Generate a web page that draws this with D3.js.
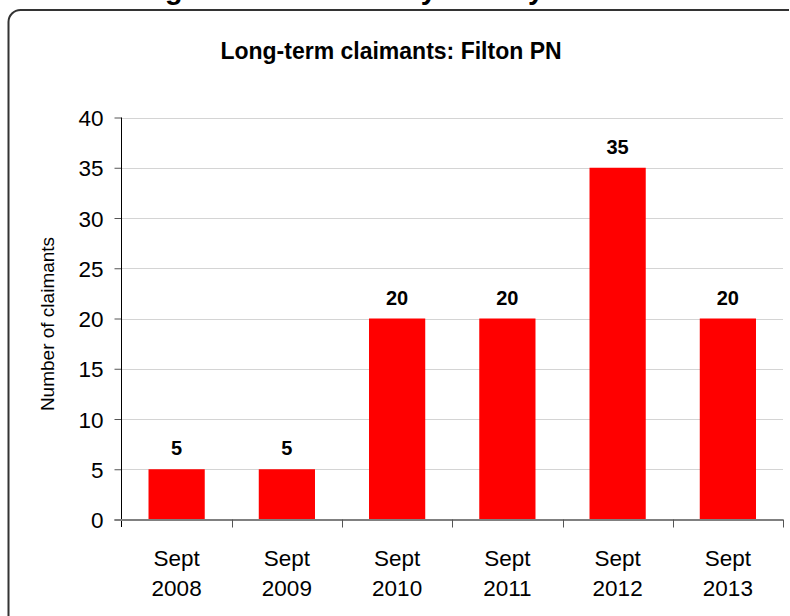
<!DOCTYPE html>
<html lang="en">
<head>
<meta charset="UTF-8">
<script src="https://d3js.org/d3.v7.min.js"></script>
<style>
body{
	margin: 0;
	background-color: white;
	font-family: "Liberation Sans", Arial, sans-serif;
}
.grid line{
	stroke: #d4d4d4;
	shape-rendering: crispEdges;
}
</style>
</head>
<body>
<svg width="790" height="616"></svg>

<script>
// chart data
const months = ["Sept", "Sept", "Sept", "Sept", "Sept", "Sept"]
const years = ["2008", "2009", "2010", "2011", "2012", "2013"]
const claimants = [5, 5, 20, 20, 35, 20]
const yTicks = [0, 5, 10, 15, 20, 25, 30, 35, 40]

const pageTitle = "Long-term claimants by locality"
const chartTitle = "Long-term claimants: Filton PN"
const yTitle = "Number of claimants"

const svg = d3.select("svg")

// slide heading, cut off by the top of the picture
let heading = svg.append("text")
	.attr("x", 0)
	.attr("y", -1.5)
	.style("font-size", "29px")
	.style("font-weight", "bold")
	.text(pageTitle)

// line the "g" and the "y" of "by" up with the reference
let hNode = heading.node()
let gX = hNode.getStartPositionOfChar(pageTitle.indexOf("g")).x
let yX = hNode.getStartPositionOfChar(pageTitle.indexOf("by") + 1).x
let hScale = (421 - 165) / (yX - gX)
heading.style("font-size", (29 * hScale) + "px")
heading.attr("x", 165 - gX * hScale)

// frame round the chart
svg.append("path")
	.attr("d", "M8.5,640 V22 A12,12 0 0 1 20.5,10 H789")
	.style("fill", "none")
	.style("stroke", "#333")
	.style("stroke-width", 2)

svg.append("text")
	.attr("x", 391)
	.attr("y", 59)
	.attr("text-anchor", "middle")
	.style("font-size", "23px")
	.style("font-weight", "bold")
	.text(chartTitle)

const plotLeft = 121.5, plotRight = 783, plotTop = 117.5, plotBottom = 519.5

let x = d3.scaleBand()
	.domain(years)
	.range([plotLeft, plotRight])
	.paddingInner(0.49)
	.paddingOuter(0.245)

let y = d3.scaleLinear()
	.domain([0, 40])
	.range([plotBottom, plotTop])

// gridlines
svg.append("g").attr("class", "grid")
	.selectAll("line")
	.data(yTicks.filter(function(d){return d > 0}))
	.join("line")
	.attr("x1", plotLeft)
	.attr("x2", plotRight)
	.attr("y1", function(d){return Math.round(y(d)) + 0.5})
	.attr("y2", function(d){return Math.round(y(d)) + 0.5})

// bars
svg.selectAll(".bar")
	.data(claimants)
	.join("rect")
	.attr("class", "bar")
	.attr("x", function(d, i){return x(years[i])})
	.attr("y", function(d){return y(d)})
	.attr("width", x.bandwidth())
	.attr("height", function(d){return y(0) - y(d)})
	.style("fill", "#ff0000")

// value labels
svg.selectAll(".val")
	.data(claimants)
	.join("text")
	.attr("class", "val")
	.attr("x", function(d, i){return x(years[i]) + x.bandwidth() / 2})
	.attr("y", function(d){return y(d) - 14})
	.attr("text-anchor", "middle")
	.style("font-size", "20px")
	.style("font-weight", "bold")
	.text(function(d){return d})

// y axis
let yAxis = svg.append("g")
	.attr("transform", "translate(" + plotLeft + ",0)")
	.call(d3.axisLeft(y).tickValues(yTicks).tickSize(7).tickPadding(11))
yAxis.select(".domain").remove()
yAxis.selectAll(".tick line").style("stroke", "#555")
yAxis.selectAll("text")
	.style("font-size", "22.5px")
	.style("font-family", "'Liberation Sans', Arial, sans-serif")
	.attr("dy", "0.36em")
	.style("fill", "#000")

svg.append("line")
	.attr("x1", plotLeft).attr("x2", plotLeft)
	.attr("y1", plotTop).attr("y2", plotBottom + 7.5)
	.style("stroke", "#000")

// x axis line and ticks between categories
let xTickPos = years.map(function(d){return x(d) - x.step() * x.paddingInner() / 2}).concat([plotRight])
svg.append("line")
	.attr("x1", plotLeft - 7).attr("x2", plotRight)
	.attr("y1", plotBottom + 0.5).attr("y2", plotBottom + 0.5)
	.style("stroke", "#808080")
	.style("stroke-width", 2)

svg.selectAll(".xtick")
	.data(xTickPos.slice(1))
	.join("line")
	.attr("class", "xtick")
	.attr("x1", function(d){return Math.round(d) + 0.5})
	.attr("x2", function(d){return Math.round(d) + 0.5})
	.attr("y1", plotBottom)
	.attr("y2", plotBottom + 8)
	.style("stroke", "#555")

let xLabels = svg.selectAll(".xlab")
	.data(years)
	.join("text")
	.attr("class", "xlab")
	.attr("text-anchor", "middle")
	.style("font-size", "22.5px")

xLabels.append("tspan")
	.attr("x", function(d){return x(d) + x.bandwidth() / 2})
	.attr("y", 566)
	.text(function(d, i){return months[i]})
xLabels.append("tspan")
	.attr("x", function(d){return x(d) + x.bandwidth() / 2})
	.attr("y", 596)
	.text(function(d){return d})

// y axis title
svg.append("text")
	.attr("transform", "translate(54,324) rotate(-90)")
	.attr("text-anchor", "middle")
	.style("font-size", "19px")
	.text(yTitle)
</script>
</body>
</html>
